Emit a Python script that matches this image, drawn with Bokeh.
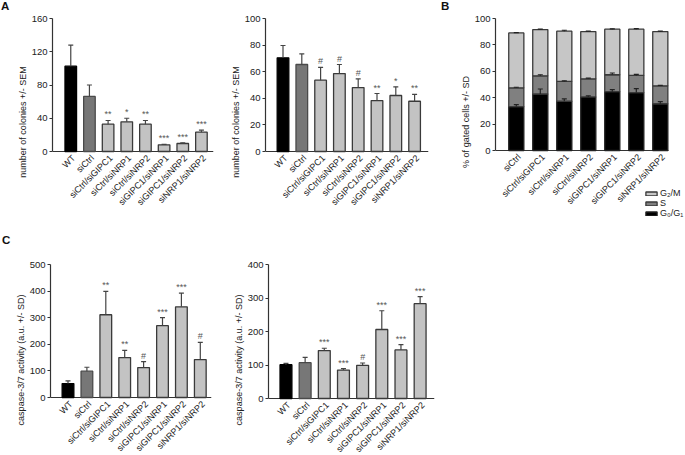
import math
from bokeh.plotting import figure
from bokeh.models import (ColumnDataSource, Whisker, FixedTicker, Legend, Div,
                          LegendItem, Spacer, TeeHead, Range1d)
from bokeh.layouts import row, column
from bokeh.embed import file_html
from bokeh.resources import INLINE
from bokeh.core.properties import value

# ---------------- data ----------------
cats8 = ["WT", "siCtrl", "siCtrl/siGIPC1", "siCtrl/siNRP1", "siCtrl/siNRP2",
         "siGIPC1/siNRP1", "siGIPC1/siNRP2", "siNRP1/siNRP2"]
cats7 = ["siCtrl", "siCtrl/siGIPC1", "siCtrl/siNRP1", "siCtrl/siNRP2",
         "siGIPC1/siNRP1", "siGIPC1/siNRP2", "siNRP1/siNRP2"]

colA1_mean = [102.6, 66.2, 32.9, 35.7, 32.9, 8.0, 9.6, 23.3]
colA1_err = [25.4, 13.8, 4.4, 4.3, 4.4, 0.5, 0.8, 2.4]
colA1_sig = ["", "", "**", "*", "**", "***", "***", "***"]

colA2_mean = [70.4, 65.4, 53.6, 58.6, 48.1, 38.3, 42.1, 37.8]
colA2_err = [9.3, 8.0, 9.6, 6.8, 6.5, 5.3, 6.5, 5.1]
colA2_sig = ["", "", "#", "#", "#", "**", "*", "**"]

g0g1 = [33.3, 42.8, 37.3, 40.6, 44.6, 43.9, 35.4]
g0g1_err = [1.5, 3.8, 1.8, 0.8, 1.5, 3.0, 1.6]
s_phase = [14.2, 13.8, 15.0, 13.7, 12.8, 13.0, 13.6]
s_err = [0.4, 0.8, 0.5, 0.5, 1.3, 0.7, 0.4]
g2m = [41.6, 35.0, 38.1, 35.8, 34.5, 35.0, 41.1]
g2m_err = [0.2, 0.4, 0.7, 0.3, 0.3, 0.5, 0.4]
phase_labels = ["G\u2082/M", "S", "G\u2080/G\u2081"]

casp1_mean = [52.5, 98.8, 311, 150, 112.5, 270, 341, 142.5]
casp1_err = [10, 15, 88, 27.5, 22.5, 30, 51.5, 65]
casp1_sig = ["", "", "**", "**", "#", "***", "***", "#"]

casp2_mean = [101, 107, 143, 85, 99, 206, 145, 283]
casp2_err = [4, 16, 7, 4, 7, 56, 16, 21]
casp2_sig = ["", "", "***", "***", "#", "***", "***", "***"]

ticks_A1 = [0, 40, 80, 120, 160]
ticks_A2 = [0, 20, 40, 60, 80, 100]
ticks_B = [0, 20, 40, 60, 80, 100]
ticks_C1 = [0, 100, 200, 300, 400, 500]
ticks_C2 = [0, 100, 200, 300, 400]

# ---------------- style / geometry ----------------
FONT = "Liberation Sans"
TXT = "#222222"
AX = "#333333"

HDR1, HDR2 = 13, 24
ROW1, ROW2 = 225, 230
H1, H2 = ROW1 - HDR1, ROW2 - HDR2
W1, W2, W3 = 225, 230, 230


def base_fig(xs, ys, w, h, L, R_axis, R_frame, T, B, c0, sp, ytop):
    """Frame from L..R_frame (page px); bars centred at c0 + i*sp; zero line at B, top value at T."""
    left = round(L) - xs
    fw = round(R_frame) - round(L)
    top = round(T) - ys
    zero = round(B) - ys
    ppu = (zero - top) / ytop
    ystart = -(h - zero) / ppu
    x0 = (L - c0) / sp
    x1 = (R_frame - c0) / sp
    p = figure(width=w, height=h, x_range=Range1d(x0, x1), y_range=Range1d(ystart, ytop),
               output_backend="svg", toolbar_location=None, x_axis_location=None,
               min_border_left=left, min_border_right=w - left - fw,
               min_border_top=top, min_border_bottom=0)
    p.outline_line_color = None
    p.xgrid.visible = False
    p.ygrid.visible = False
    ax = p.yaxis[0]
    ax.bounds = (0, ytop)
    ax.axis_line_color = AX
    ax.axis_line_width = 1.2
    ax.major_tick_line_color = AX
    ax.major_tick_line_width = 1.2
    ax.minor_tick_line_color = None
    ax.major_tick_in = 0
    ax.major_tick_out = 3
    ax.major_label_text_font = FONT
    ax.major_label_text_color = TXT
    ax.major_label_text_font_size = "9.5px"
    ax.major_label_standoff = 2
    ax.axis_label_text_font = FONT
    ax.axis_label_text_font_style = "normal"
    ax.axis_label_text_color = TXT
    ax.axis_label_text_font_size = "9px"
    ax.axis_label_standoff = 1
    # category (x) axis line
    p.segment(x0=[x0], y0=[0], x1=[(R_axis - c0) / sp], y1=[0],
              line_color=AX, line_width=1.2)
    return p


def x_labels(p, cats):
    src = ColumnDataSource(dict(x=list(range(len(cats))), lab=cats))
    p.text(x="x", y=0, text="lab", source=src, angle=math.pi / 4,
           text_align="right", text_baseline="middle", x_offset=3, y_offset=5,
           text_font_size="9px", text_color=TXT, text_font=value(FONT))


def bar_panel(geom, cats, means, errs, sigs, yticks, ylabel):
    n = len(cats)
    p = base_fig(*geom, yticks[-1])
    fills = ["#000000", "#777777"] + ["#c3c3c3"] * (n - 2)
    lines = ["#000000", "#4a4a4a"] + ["#3a3a3a"] * (n - 2)
    src = ColumnDataSource(dict(
        x=list(range(n)), top=means,
        up=[m + e for m, e in zip(means, errs)],
        sig=sigs, fill=fills, line=lines))
    p.vbar(x="x", top="top", bottom=0, width=0.62, source=src,
           fill_color="fill", line_color="line", line_width=1.3)
    p.add_layout(Whisker(base="x", lower="top", upper="up", source=src,
                         line_color="#444444", line_width=1.2, level="annotation",
                         upper_head=TeeHead(size=5, line_color="#444444", line_width=1.2),
                         lower_head=None))
    p.text(x="x", y="up", text="sig", source=src, text_align="center",
           text_baseline="bottom", y_offset=-1, text_font_size="9px",
           text_color="#555555", text_font=value(FONT))
    p.yaxis.ticker = FixedTicker(ticks=yticks)
    p.yaxis.axis_label = ylabel
    x_labels(p, cats)
    return p


def letter(text, w, h, pad_left, pad_top):
    return Div(text=text, width=w, height=h, margin=0,
               styles={"font-family": FONT, "font-size": "11.5px", "font-weight": "bold",
                       "color": "#111111", "line-height": "13px",
                       "padding-left": f"{pad_left}px", "padding-top": f"{pad_top}px",
                       "box-sizing": "border-box", "overflow": "visible"})


# A1 / A2
pA1 = bar_panel((0, HDR1, W1, H1, 51.7, 213, 213, 18.3, 151.3, 70, 18.7),
                cats8, colA1_mean, colA1_err, colA1_sig, ticks_A1,
                "number of colonies +/- SEM")
pA2 = bar_panel((W1, HDR1, W2, H1, 265, 428, 428, 18.3, 151.3, 282.5, 18.8),
                cats8, colA2_mean, colA2_err, colA2_sig, ticks_A2,
                "number of colonies +/- SEM")

# B stacked
pB = base_fig(W1 + W2, HDR1, W3, H1, 495, 668, 685, 18.3, 149.7, 515.8, 24, ticks_B[-1])
n7 = len(cats7)
s_top = [a + b for a, b in zip(g0g1, s_phase)]
tot = [a + b for a, b in zip(s_top, g2m)]
srcB = ColumnDataSource(dict(
    x=list(range(n7)), g1=g0g1, stop=s_top, tot=tot,
    g1u=[a + e for a, e in zip(g0g1, g0g1_err)],
    su=[a + e for a, e in zip(s_top, s_err)],
    tu=[a + e for a, e in zip(tot, g2m_err)]))
r1 = pB.vbar(x="x", bottom=0, top="g1", width=0.63, source=srcB,
             fill_color="#000000", line_color="#222222", line_width=1.3)
r2 = pB.vbar(x="x", bottom="g1", top="stop", width=0.63, source=srcB,
             fill_color="#808080", line_color="#3a3a3a", line_width=1.3)
r3 = pB.vbar(x="x", bottom="stop", top="tot", width=0.63, source=srcB,
             fill_color="#c6c6c6", line_color="#3a3a3a", line_width=1.3)
for lo, up in (("g1", "g1u"), ("stop", "su"), ("tot", "tu")):
    pB.add_layout(Whisker(base="x", lower=lo, upper=up, source=srcB,
                          line_color="#222222", line_width=1.2, level="annotation",
                          upper_head=TeeHead(size=5, line_color="#222222", line_width=1.2),
                          lower_head=None))
pB.yaxis.ticker = FixedTicker(ticks=ticks_B)
pB.yaxis.axis_label = "% of gated cells +/- SD"
x_labels(pB, cats7)
legB = Legend(items=[LegendItem(label=phase_labels[0], renderers=[r3]),
                     LegendItem(label=phase_labels[1], renderers=[r2]),
                     LegendItem(label=phase_labels[2], renderers=[r1])],
              location=(149, 7),
              glyph_width=14, glyph_height=5, label_height=8, spacing=-9,
              padding=0, margin=0, border_line_color=None,
              background_fill_alpha=0, label_standoff=2,
              label_text_font=FONT, label_text_font_size="9px",
              label_text_color=TXT)
pB.add_layout(legB)

# C1 / C2
pC1 = bar_panel((0, ROW1 + HDR2, W1, H2, 50, 211, 211, 264.3, 397.3, 67.5, 18.9),
                cats8, casp1_mean, casp1_err, casp1_sig, ticks_C1,
                "caspase-3/7 activity (a.u. +/- SD)")
pC2 = bar_panel((W1, ROW1 + HDR2, W2, H2, 267.7, 434, 434, 264.3, 397.7, 285.2, 19.2),
                cats8, casp2_mean, casp2_err, casp2_sig, ticks_C2,
                "caspase-3/7 activity (a.u. +/- SD)")

B_LEFT = 441
hdr1 = row(letter("A", W1, HDR1, 1, 0),
           Spacer(width=B_LEFT - W1, height=HDR1),
           letter("B", 14, HDR1, 0, 0),
           Spacer(width=W1 + W2 + W3 - B_LEFT - 14, height=HDR1))
hdr2 = row(letter("C", W1, HDR2, 2, 9),
           Spacer(width=W2 + W3, height=HDR2))

layout = column(hdr1,
                row(pA1, pA2, pB),
                hdr2,
                row(pC1, pC2, Spacer(width=W3, height=H2)))

open("out.html", "w").write(file_html(layout, INLINE))
